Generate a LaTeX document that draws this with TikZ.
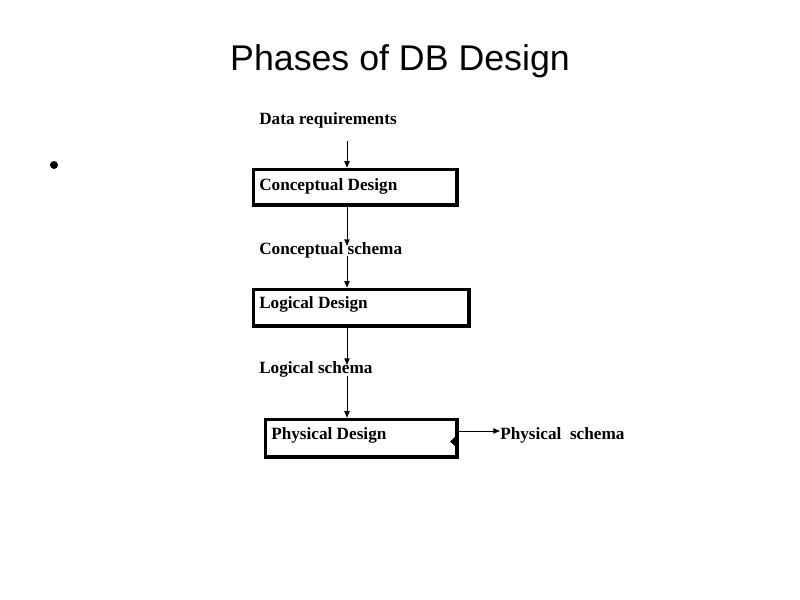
\documentclass[tikz,border=0pt]{standalone}
\usepackage{fontspec}
\setmainfont{Liberation Serif}
\newfontfamily\titlefont{Liberation Sans}
\usetikzlibrary{arrows.meta}
\begin{document}
\begin{tikzpicture}[x=0.75pt,y=-0.75pt,
  lbl/.style={anchor=west,inner sep=0pt,font=\fontsize{12.9pt}{15pt}\selectfont\bfseries},
  phase/.style={draw,line width=2.6pt,inner sep=0pt,anchor=north west},
  conn/.style={line width=0.75pt,-{Triangle[length=5pt,width=4pt]}}]
\useasboundingbox (0,0) rectangle (800,600);
\node[font=\titlefont\fontsize{26.8pt}{30pt}\selectfont] (title) at (400,61) {Phases of DB Design};
\fill (54,165) circle (4);
\node[lbl] (dr) at (259,120) {Data requirements};
\node[phase,minimum width=152.6pt,minimum height=26.6pt] (cd) at (251.75,167.75) {};
\node[lbl] (cdt) at (259,186) {Conceptual Design};
\node[lbl] (cs) at (259,250) {Conceptual schema};
\node[phase,minimum width=161.6pt,minimum height=27.4pt] (ld) at (251.75,287.75) {};
\node[lbl] (ldt) at (259,304) {Logical Design};
\node[lbl] (ls) at (259,369) {Logical schema};
\node[phase,minimum width=143.6pt,minimum height=28.1pt] (pd) at (263.75,417.75) {};
\node[lbl] (pdt) at (271,435) {Physical Design};
\node[lbl] (ps) at (500,435) {Physical\ \ schema};
\coordinate (d0) at (347,141);
\coordinate (a1) at (347,246);
\coordinate (b1) at (347,256);
\coordinate (a2) at (347,365);
\coordinate (b2) at (347,376);
\draw[conn] (d0) -- (d0 |- cd.north);
\draw[conn] (d0 |- cd.south) -- (a1);
\draw[conn] (b1) -- (b1 |- ld.north);
\draw[conn] (b1 |- ld.south) -- (a2);
\draw[conn] (b2) -- (b2 |- pd.north);
\draw[conn] (pd.east |- 0,431) -- (ps.west |- 0,431);
\fill (450,441.5) -- (455,437) -- (455,446) -- cycle;
\end{tikzpicture}
\end{document}
